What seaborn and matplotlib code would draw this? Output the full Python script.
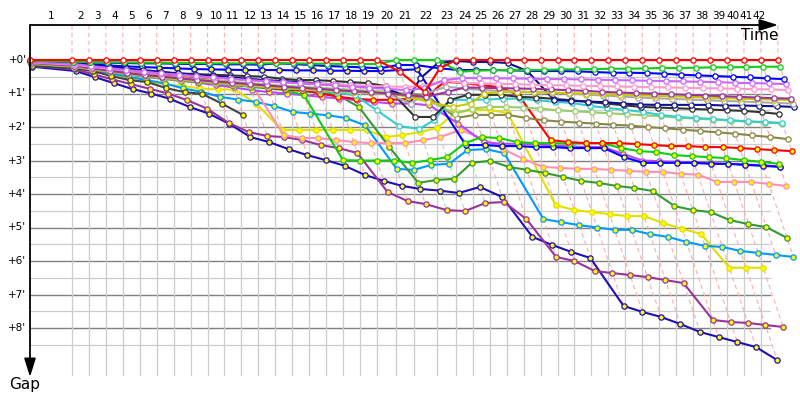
import numpy as np
import matplotlib
matplotlib.use("Agg")
import matplotlib.pyplot as plt
import seaborn as sns

# leader lap times in seconds, laps 1..42
lap_time_s = [223, 90, 90, 90, 91, 89, 90, 90, 90, 89,
              91, 90, 89, 90, 90, 90, 90, 90, 90, 101,
              96, 122, 101, 89, 90, 90, 90, 90, 90, 89,
              90, 91, 89, 91, 90, 89, 91, 90, 90, 90,
              90, 90]
sc_laps = [20, 21, 22]

# gap to the leader in minutes, one value per lap starting at lap 0
red_w = [0, 0, 0, 0, 0, 0, 0, 0, 0, 0,
         0, 0, 0, 0, 0, 0, 0, 0, 0, 0,
         0.35, 0.95, 0.25, 0, 0, 0, 0, 0, 0, 0,
         0, 0, 0, 0, 0, 0, 0, 0, 0, 0,
         0, 0, 0]
green_w = [0.02, 0.05, 0.06, 0.07, 0.07, 0.08, 0.08, 0.09, 0.09, 0.1,
           0.1, 0.1, 0.1, 0.1, 0.1, 0.11, 0.11, 0.12, 0.12, 0.12,
           0, 0, 0, 0.35, 0.32, 0.3, 0.3, 0.3, 0.3, 0.28,
           0.28, 0.27, 0.26, 0.26, 0.25, 0.24, 0.24, 0.23, 0.22, 0.22,
           0.21, 0.2, 0.2]
blue_w = [0.02, 0.05, 0.07, 0.08, 0.09, 0.1, 0.1, 0.11, 0.12, 0.12,
          0.13, 0.13, 0.14, 0.1, 0.12, 0.15, 0.18, 0.2, 0.22, 0.25,
          0.15, 0.15, 0.25, 0.3, 0.3, 0.3, 0.31, 0.32, 0.33, 0.33,
          0.34, 0.36, 0.38, 0.38, 0.39, 0.41, 0.44, 0.46, 0.48, 0.5,
          0.52, 0.55, 0.57]
violet_w = [0.06, 0.12, 0.18, 0.24, 0.3, 0.35, 0.4, 0.44, 0.48, 0.52,
            0.56, 0.6, 0.63, 0.66, 0.7, 0.73, 0.76, 0.8, 0.83, 0.86,
            0.9, 0.85, 0.6, 0.54, 0.54, 0.55, 0.55, 0.56, 0.57, 0.57,
            0.58, 0.59, 0.6, 0.61, 0.62, 0.63, 0.64, 0.65, 0.66, 0.68,
            0.69, 0.7, 0.72]
pink_w = [0.07, 0.14, 0.2, 0.26, 0.31, 0.36, 0.41, 0.45, 0.49, 0.53,
          0.57, 0.61, 0.64, 0.67, 0.69, 0.71, 0.73, 0.75, 0.77, 0.79,
          0.8, 0.78, 0.62, 0.69, 0.7, 0.71, 0.72, 0.74, 0.75, 0.76,
          0.77, 0.78, 0.79, 0.8, 0.81, 0.82, 0.83, 0.84, 0.85, 0.86,
          0.87, 0.88, 0.9]
purple_w = [0.09, 0.17, 0.25, 0.32, 0.39, 0.45, 0.5, 0.55, 0.6, 0.64,
            0.68, 0.72, 0.76, 0.8, 0.83, 0.86, 0.9, 0.93, 0.96, 1.0,
            1.05, 1.1, 0.95, 0.82, 0.83, 0.84, 0.85, 0.86, 0.88, 0.9,
            0.92, 0.95, 0.97, 0.99, 1.0, 1.02, 1.04, 1.06, 1.08, 1.1,
            1.12, 1.14, 1.15]
khaki_w = [0.1, 0.18, 0.26, 0.33, 0.4, 0.46, 0.52, 0.57, 0.62, 0.67,
           0.71, 0.75, 0.79, 0.83, 0.86, 0.89, 0.92, 0.95, 0.98, 1.0,
           1.1, 1.25, 1.4, 1.3, 1.0, 0.95, 0.95, 0.96, 0.97, 0.99,
           1.0, 1.02, 1.03, 1.05, 1.07, 1.08, 1.1, 1.12, 1.14, 1.15,
           1.17, 1.18, 1.2]
lightgray_w = [0.11, 0.2, 0.28, 0.35, 0.42, 0.48, 0.54, 0.59, 0.64, 0.69,
               0.73, 0.77, 0.81, 0.84, 0.87, 0.9, 0.93, 0.96, 0.99, 1.02,
               1.3, 1.0, 0.8, 0.85, 0.9, 0.92, 0.94, 0.96, 0.98, 1.0,
               1.03, 1.06, 1.09, 1.12, 1.14, 1.16, 1.18, 1.2, 1.22, 1.24,
               1.26, 1.28, 1.3]
navy_w = [0.03, 0.1, 0.15, 0.2, 0.25, 0.3, 0.35, 0.4, 0.44, 0.48,
          0.52, 0.56, 0.6, 0.63, 0.66, 0.7, 0.73, 0.76, 0.8, 0.84,
          1.13, 0.55, 0.09, 0.03, 0.06, 0.06, 0.09, 0.33, 1.19, 1.22,
          1.24, 1.26, 1.3, 1.33, 1.34, 1.34, 1.34, 1.34, 1.36, 1.36,
          1.37, 1.38, 1.4]
darkgray_w = [0.08, 0.15, 0.21, 0.26, 0.3, 0.34, 0.37, 0.4, 0.42, 0.44,
              0.46, 0.48, 0.5, 0.56, 0.6, 0.6, 0.63, 0.66, 0.69, 0.78,
              1.7, 1.7, 1.19, 1.04, 1.04, 1.04, 1.1, 1.12, 1.16, 1.2,
              1.25, 1.3, 1.35, 1.4, 1.42, 1.44, 1.46, 1.48, 1.5, 1.52,
              1.56, 1.61]
cyan_w = [0.1, 0.18, 0.26, 0.33, 0.4, 0.46, 0.52, 0.57, 0.62, 0.67,
          0.71, 0.75, 0.79, 0.83, 0.87, 0.92, 0.98, 1.05, 1.5, 1.97,
          2.06, 1.79, 1.19, 1.19, 1.18, 1.16, 1.15, 1.2, 1.25, 1.28,
          1.37, 1.43, 1.49, 1.55, 1.64, 1.7, 1.73, 1.76, 1.8, 1.83,
          1.85, 1.88]
lightgreen_w = [0.09, 0.17, 0.24, 0.31, 0.37, 0.43, 0.48, 0.53, 0.57, 0.61,
                0.65, 0.69, 0.73, 0.77, 0.8, 0.83, 0.86, 0.89, 0.92, 0.95,
                1.0, 1.2, 1.6, 1.45, 1.4, 1.4, 1.42, 1.45, 1.5, 1.53,
                1.56, 1.59, 1.62, 1.65, 1.68, 1.72, 1.75, 1.78, 1.81, 1.84,
                1.87, 1.9]
olive_w = [0.1, 0.2, 0.28, 0.36, 0.43, 0.5, 0.56, 0.62, 0.66, 0.7,
           0.74, 0.78, 0.82, 0.85, 0.87, 0.89, 0.91, 0.93, 0.95, 0.97,
           0.99, 1.05, 1.73, 1.64, 1.64, 1.64, 1.73, 1.8, 1.84, 1.87,
           1.9, 1.93, 1.96, 2.0, 2.04, 2.08, 2.12, 2.16, 2.2, 2.25,
           2.3, 2.36]
red_y = [0.05, 0.12, 0.2, 0.27, 0.35, 0.4, 0.45, 0.5, 0.55, 0.6,
         0.66, 0.75, 0.84, 0.87, 0.9, 1.0, 1.1, 1.16, 1.19, 1.19,
         1.16, 1.1, 0.65, 0.69, 0.75, 0.81, 1.04, 2.39, 2.45, 2.48,
         2.48, 2.48, 2.51, 2.54, 2.57, 2.57, 2.6, 2.6, 2.63, 2.66,
         2.69, 2.72]
green_y = [0.12, 0.2, 0.28, 0.35, 0.42, 0.5, 0.55, 0.62, 0.66, 0.7,
           0.75, 0.8, 0.85, 0.9, 1.05, 2.99, 3.0, 3.0, 3.0, 3.07,
           2.99, 2.9, 2.48, 2.3, 2.33, 2.45, 2.48, 2.48, 2.5, 2.48,
           2.48, 2.63, 2.72, 2.75, 2.84, 2.87, 2.9, 2.93, 2.99, 3.04,
           3.1]
darkgreen_y = [0.11, 0.19, 0.27, 0.34, 0.41, 0.47, 0.53, 0.58, 0.63, 0.68,
               0.73, 0.78, 0.83, 0.88, 0.93, 0.98, 1.05, 1.4, 2.6, 3.67,
               3.58, 3.55, 3.07, 3.01, 3.19, 3.28, 3.37, 3.49, 3.61, 3.67,
               3.76, 3.82, 3.91, 4.36, 4.48, 4.54, 4.78, 4.9, 4.99, 5.31]
blue_y = [0.05, 0.1, 0.13, 0.16, 0.19, 0.21, 0.23, 0.25, 0.27, 0.28,
          0.29, 0.3, 0.3, 0.3, 0.31, 0.31, 0.32, 0.32, 0.33, 0.33,
          0.3, 0.28, 2.54, 2.54, 2.57, 2.57, 2.6, 2.6, 2.63, 2.63,
          2.63, 2.9, 3.07, 3.07, 3.07, 3.07, 3.1, 3.1, 3.13, 3.16,
          3.19]
violet_y = [0.08, 0.15, 0.22, 0.3, 0.38, 0.45, 0.52, 0.6, 0.68, 0.75,
            0.82, 0.9, 0.96, 1.0, 1.05, 1.1, 1.15, 1.2, 1.25, 1.3,
            1.3, 1.35, 1.9, 2.45, 2.5, 2.5, 2.52, 2.55, 2.58, 2.6,
            2.6, 2.8, 3.0, 3.02, 3.04, 3.06, 3.08, 3.1, 3.12, 3.14,
            3.18]
pink_y = [0.15, 0.2, 0.25, 0.3, 0.35, 0.4, 0.42, 0.45, 0.48, 0.5,
          0.52, 0.55, 2.24, 2.33, 2.33, 2.39, 2.45, 2.48, 2.48, 2.48,
          2.39, 2.3, 2.09, 2.35, 2.65, 2.95, 3.19, 3.22, 3.25, 3.25,
          3.28, 3.31, 3.34, 3.34, 3.4, 3.42, 3.64, 3.64, 3.64, 3.7,
          3.76]
sky_y = [0.1, 0.2, 0.3, 0.4, 0.5, 0.6, 0.7, 0.85, 0.95, 1.1,
         1.18, 1.25, 1.37, 1.55, 1.6, 1.65, 1.73, 1.95, 3.25, 3.28,
         3.13, 3.1, 2.69, 2.66, 2.78, 4.75, 4.84, 4.93, 5.0, 5.07,
         5.07, 5.2, 5.28, 5.43, 5.55, 5.58, 5.7, 5.76, 5.82, 5.88]
yellow_y = [0.1, 0.18, 0.3, 0.42, 0.55, 0.65, 0.72, 0.78, 0.85, 0.88,
            0.88, 1.3, 2.09, 2.09, 2.09, 2.09, 2.09, 2.09, 2.3, 2.24,
            2.15, 2.03, 1.58, 1.49, 1.49, 1.58, 4.33, 4.48, 4.54, 4.6,
            4.66, 4.66, 4.87, 5.04, 5.19, 6.2, 6.2, 6.2]
purple_y = [0.18, 0.28, 0.43, 0.58, 0.72, 0.86, 1.0, 1.2, 1.45, 1.88,
            2.15, 2.27, 2.3, 2.39, 2.54, 2.63, 2.78, 3.94, 4.21, 4.3,
            4.48, 4.51, 4.27, 4.24, 4.75, 5.88, 6.0, 6.3, 6.36, 6.42,
            6.48, 6.57, 6.66, 7.76, 7.82, 7.85, 7.91, 7.97]
navy_y = [0.2, 0.33, 0.51, 0.69, 0.87, 1.0, 1.16, 1.4, 1.6, 1.9,
          2.3, 2.45, 2.66, 2.84, 2.99, 3.16, 3.43, 3.61, 3.76, 3.85,
          3.9, 3.97, 3.79, 4.09, 5.28, 5.52, 5.73, 5.91, 7.34, 7.52,
          7.67, 7.88, 8.12, 8.27, 8.42, 8.57, 8.96]
darkgray_y = [0.18, 0.25, 0.33, 0.48, 0.6, 0.66, 0.84, 0.96, 1.01, 1.31, 1.64]

WHITE, YELLOW = "#ffffff", "#ffff00"
# drawing order: back markers first, leader last
drivers = [
    (navy_y, "#2010b0", YELLOW),
    (purple_y, "#993399", YELLOW),
    (yellow_y, "#e0e000", YELLOW),
    (sky_y, "#0099ff", YELLOW),
    (darkgreen_y, "#339933", YELLOW),
    (pink_y, "#ff8fb4", YELLOW),
    (darkgray_y, "#444444", YELLOW),
    (violet_y, "#bb44ff", YELLOW),
    (blue_y, "#0000ff", YELLOW),
    (green_y, "#11cc11", YELLOW),
    (red_y, "#ff0000", YELLOW),
    (olive_w, "#888844", WHITE),
    (lightgreen_w, "#99cc66", WHITE),
    (cyan_w, "#33cccc", WHITE),
    (darkgray_w, "#333333", WHITE),
    (navy_w, "#101090", WHITE),
    (lightgray_w, "#aaaaaa", WHITE),
    (khaki_w, "#c8c800", WHITE),
    (purple_w, "#993399", WHITE),
    (pink_w, "#ff99cc", WHITE),
    (violet_w, "#cc66ff", WHITE),
    (blue_w, "#0000ff", WHITE),
    (green_w, "#11cc11", WHITE),
    (red_w, "#ff0000", WHITE),
]

# layout: pixels per minute on each axis, origin at (30, 60) px
PX_X, PX_Y = 11.3, 33.5
lap_end = np.concatenate([[0], np.cumsum(lap_time_s) / 60.0])
n_laps = len(lap_time_s)

fig = plt.figure(figsize=(8, 4), dpi=100)
ax = fig.add_axes([0, 0, 1, 1])
ax.set_xlim(-30 / PX_X, 770 / PX_X)
ax.set_ylim(340 / PX_Y, -60 / PX_Y)
ax.set_axis_off()

t_right = 740 / PX_X
g_axis = -35 / PX_Y
g_low = 315 / PX_Y

# grid
for g in np.arange(0.5, 9.0, 1.0):
    ax.plot([0, t_right], [g, g], color="#cccccc", lw=0.9, zorder=1)
for g in range(0, 9):
    ax.plot([0, t_right], [g, g], color="#808080", lw=1.0, zorder=1)
for t in lap_end[1:]:
    if t <= t_right:
        ax.plot([t, t], [0, g_low], color="#cccccc", lw=0.9, zorder=1)

# one dashed line per lap through every car's crossing of that lap
for k in range(1, n_laps + 1):
    deepest = max(d[0][k] for d in drivers if len(d[0]) > k)
    col = "#a8e0a8" if k in sc_laps else "#ffaaaa"
    t = lap_end[k]
    ax.plot([t, t, t + deepest], [g_axis, 0, deepest], color=col, lw=0.8,
            ls=(0, (4, 3)), zorder=2)

# lap numbers, squeezed in front of the arrow head at the end
for k in range(1, n_laps + 1):
    xc = min((lap_end[k - 1] + lap_end[k]) / 2,
             (729 - 13 * (n_laps - k)) / PX_X)
    ax.text(xc, -44 / PX_Y, str(k), ha="center", va="center", fontsize=7.5)

# cars
for gaps, color, fill in drivers:
    gaps = np.asarray(gaps, dtype=float)
    laps = np.arange(len(gaps))
    sns.lineplot(x=lap_end[laps] + gaps, y=gaps, ax=ax, color=color,
                 lw=1.5, marker="o", markersize=3.8, markerfacecolor=fill,
                 markeredgecolor=color, markeredgewidth=0.9,
                 estimator=None, sort=False, zorder=3)
ax.set_axis_off()

# axes with arrows
arrow = dict(arrowstyle="-|>,head_length=0.8,head_width=0.25", color="black",
             lw=1.3, mutation_scale=14, shrinkA=0, shrinkB=0)
ax.annotate("", xy=(748 / PX_X, g_axis), xytext=(0, g_axis), arrowprops=arrow, zorder=5)
ax.annotate("", xy=(0, 317 / PX_Y), xytext=(0, g_axis), arrowprops=arrow, zorder=5)
ax.text(730 / PX_X, -25 / PX_Y, "Time", ha="center", va="center", fontsize=11)
ax.text(-5 / PX_X, 325 / PX_Y, "Gap", ha="center", va="center", fontsize=11)

for g in range(0, 9):
    ax.text(-3.5 / PX_X, g, f"+{g}'", ha="right", va="center", fontsize=7.5)

fig.savefig("out.png", dpi=100)
